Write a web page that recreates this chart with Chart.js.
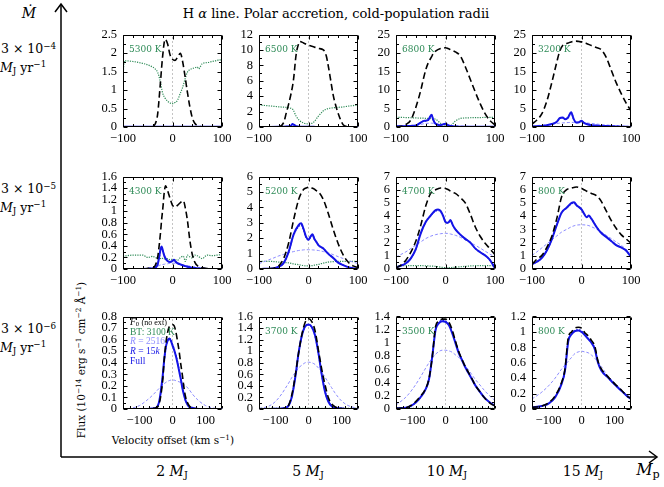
<!DOCTYPE html>
<html>
<head>
<meta charset="utf-8">
<script src="https://cdn.jsdelivr.net/npm/chart.js@4.4.0/dist/chart.umd.min.js"></script>
<style>
  body { margin: 0; background: #fff; }
  #fig { position: relative; width: 664px; height: 487px; overflow: hidden; font-family: "DejaVu Serif", serif; color: #000; }
  #fig canvas { position: absolute; }
  .t { position: absolute; white-space: nowrap; line-height: 1; transform: translate(-50%, -50%); }
  .l { position: absolute; white-space: nowrap; line-height: 1; transform: translateY(-50%); }
  .sp { font-size: 70%; vertical-align: 0.5em; }
  .sb { font-size: 70%; vertical-align: -0.25em; }
  .temp { position: absolute; font-size: 9px; color: #2e8b57; transform: translateY(-50%); white-space: nowrap; z-index: 2; }
  .leg { position: absolute; font-family: "Liberation Serif", serif; font-size: 9.5px; white-space: nowrap; transform: translateY(-50%); z-index: 2; }
  svg { position: absolute; left: 0; top: 0; }
</style>
</head>
<body>
<div id="fig">
  <svg width="664" height="487">
    <polyline points="61,457 61,4" fill="none" stroke="#000" stroke-width="1.5"/>
    <polyline points="55,12 61,4 67,12" fill="none" stroke="#000" stroke-width="1.5"/>
    <polyline points="61,457 657,457" fill="none" stroke="#000" stroke-width="1.5"/>
    <polyline points="649,451 657,457 649,463" fill="none" stroke="#000" stroke-width="1.5"/>
  </svg>
  <div class="t" style="left:336px;top:13px;font-size:13px;">H <i>α</i> line. Polar accretion, cold-population radii</div>
  <div class="t" style="left:29px;top:13px;font-size:14px;"><i>Ṁ</i></div>

  <div class="l" style="left:1px;top:49px;font-size:12.5px;">3 × 10<span class="sp">−4</span></div>
  <div class="l" style="left:0px;top:68px;font-size:12.5px;"><i>M</i><span class="sb">J</span> yr<span class="sp">−1</span></div>
  <div class="l" style="left:1px;top:189px;font-size:12.5px;">3 × 10<span class="sp">−5</span></div>
  <div class="l" style="left:0px;top:208px;font-size:12.5px;"><i>M</i><span class="sb">J</span> yr<span class="sp">−1</span></div>
  <div class="l" style="left:1px;top:329px;font-size:12.5px;">3 × 10<span class="sp">−6</span></div>
  <div class="l" style="left:0px;top:348px;font-size:12.5px;"><i>M</i><span class="sb">J</span> yr<span class="sp">−1</span></div>

  <div class="t" style="left:172px;top:472px;font-size:14px;">2 <i>M</i><span class="sb">J</span></div>
  <div class="t" style="left:308px;top:472px;font-size:14px;">5 <i>M</i><span class="sb">J</span></div>
  <div class="t" style="left:447px;top:472px;font-size:14px;">10 <i>M</i><span class="sb">J</span></div>
  <div class="t" style="left:583px;top:472px;font-size:14px;">15 <i>M</i><span class="sb">J</span></div>
  <div class="t" style="left:648px;top:471px;font-size:16px;"><i>M</i><span class="sb">p</span></div>

  <div class="t" style="left:81px;top:360px;font-size:10.5px;transform:translate(-50%,-50%) rotate(-90deg);">Flux (10<span class="sp">−14</span> erg s<span class="sp">−1</span> cm<span class="sp">−2</span> Å<span class="sp">−1</span>)</div>
  <div class="t" style="left:173px;top:440px;font-size:10.5px;">Velocity offset (km s<span class="sp">−1</span>)</div>

  <div class="leg" style="left:130px;top:322px;color:#000;"><i>F</i><span class="sb">0</span> <span style="font-size:85%">(no ext)</span></div>
  <div class="leg" style="left:130px;top:332px;color:#2e8b57;">BT: 3100 K</div>
  <div class="leg" style="left:130px;top:341px;color:#8c8cff;"><i>R</i> = 2516</div>
  <div class="leg" style="left:130px;top:351px;color:#1414e6;"><i>R</i> = 15<i>k</i></div>
  <div class="leg" style="left:130px;top:361px;color:#1414e6;">Full</div>
</div>
<script>
// Row 1: Mdot = 3e-4 MJ/yr ; columns 2, 5, 10, 15 MJ
const m4_2_vel   = [-100,-97,-80,-60,-40,-35,-30,-25,-20,-15,-10,-5,0,5,10,16,20,25,30,35,40,45,50,53,55,60,70,80,90,95,100];
const m4_2_f0    = [0,0,0,0,0.02,0.08,0.35,1.1,1.9,2.37,2.25,1.95,1.83,1.8,1.88,1.99,1.8,1.4,0.95,0.55,0.25,0.1,0.04,0.02,0.01,0,0,0,0,0,0];
const m4_2_bt    = [1.42,1.79,1.77,1.72,1.62,1.57,1.48,1.25,0.92,0.78,0.7,0.65,0.63,0.66,0.72,0.92,1.05,1.28,1.48,1.55,1.58,1.6,1.62,1.57,1.6,1.71,1.74,1.77,1.8,1.82,1.75];
const m4_2_r2516 = [0.01,0.01,0.01,0.01,0.01,0.01,0.01,0.01,0.01,0.01,0.01,0.01,0.01,0.01,0.01,0.01,0.01,0.01,0.01,0.01,0.01,0.01,0.01,0.01,0.01,0.01,0.01,0.01,0.01,0.01,0.01];
const m4_2_r15k  = [0.01,0.01,0.01,0.01,0.01,0.01,0.01,0.01,0.01,0.01,0.01,0.01,0.01,0.01,0.01,0.01,0.01,0.01,0.01,0.01,0.01,0.01,0.01,0.01,0.01,0.01,0.01,0.01,0.01,0.01,0.01];
const m4_2_full  = [0.01,0.01,0.01,0.01,0.01,0.01,0.01,0.01,0.01,0.01,0.01,0.01,0.01,0.01,0.01,0.01,0.01,0.01,0.01,0.01,0.01,0.01,0.01,0.01,0.01,0.01,0.01,0.01,0.01,0.01,0.01];

const m4_5_vel   = [-100,-80,-60,-50,-45,-40,-35,-32,-30,-25,-20,-18,-10,0,10,20,30,36,40,45,50,55,60,70,80,90,100];
const m4_5_f0    = [0,0,0.05,0.6,1.8,3.0,4.4,5.4,6.3,9.4,10.8,11.1,10.9,10.6,10.4,10.2,10.0,9.2,7.9,6.0,4.1,2.8,1.75,0.3,0.05,0,0];
const m4_5_bt    = [2.85,2.75,2.62,2.57,2.55,2.5,2.42,2.3,2.1,1.4,0.95,0.82,0.52,0.4,0.6,1.4,2.1,2.3,2.4,2.45,2.5,2.52,2.55,2.6,2.7,2.78,2.85];
const m4_5_r2516 = [0.01,0.01,0.02,0.03,0.04,0.05,0.06,0.07,0.07,0.06,0.05,0.05,0.04,0.03,0.02,0.02,0.01,0.01,0.01,0.01,0.01,0.01,0.01,0.01,0.01,0.01,0.01];
const m4_5_r15k  = [0.01,0.01,0.02,0.03,0.05,0.08,0.19,0.38,0.28,0.11,0.05,0.04,0.02,0.02,0.02,0.01,0.01,0.01,0.01,0.01,0.01,0.01,0.01,0.01,0.01,0.01,0.01];
const m4_5_full  = [0.01,0.01,0.02,0.03,0.05,0.08,0.2,0.4,0.3,0.12,0.05,0.04,0.02,0.02,0.02,0.01,0.01,0.01,0.01,0.01,0.01,0.01,0.01,0.01,0.01,0.01,0.01];

const m4_10_vel   = [-100,-90,-80,-70,-60,-50,-45,-40,-35,-28,-25,-20,-10,0,5,10,20,30,40,50,60,70,80,90,100];
const m4_10_f0    = [0.05,0.2,0.7,1.9,5.3,9.9,12.8,15.4,17.3,19.0,19.8,20.5,21.2,21.4,21.2,20.9,20.3,19.2,16.3,12.9,9.5,6.3,3.6,1.7,0.6];
const m4_10_bt    = [2.6,2.6,2.55,2.5,2.45,2.4,2.4,2.35,2.3,2.25,2.2,2.1,1.0,0.2,0.15,0.3,1.6,2.3,2.45,2.5,2.55,2.55,2.6,2.6,2.6];
const m4_10_r2516 = [0.15,0.18,0.22,0.3,0.45,0.7,0.85,0.95,1.0,1.05,1.0,0.95,0.75,0.6,0.5,0.45,0.3,0.25,0.2,0.15,0.12,0.1,0.08,0.06,0.05];
const m4_10_r15k  = [0.2,0.2,0.25,0.3,0.4,1.2,1.55,1.65,1.85,3.2,2.0,0.9,0.5,0.85,0.5,0.25,0.15,0.1,0.1,0.1,0.08,0.08,0.06,0.05,0.05];
const m4_10_full  = [0.2,0.2,0.25,0.3,0.4,1.2,1.6,1.7,1.9,3.3,2.0,0.9,0.5,0.9,0.5,0.25,0.15,0.1,0.1,0.1,0.08,0.08,0.06,0.05,0.05];

const m4_15_vel   = [-100,-90,-80,-70,-60,-50,-44,-38,-33,-27,-21,-16,-11,-5,0,5,10,20,30,40,50,60,70,80,90,100];
const m4_15_f0    = [0.8,1.9,3.6,7.0,12.0,17.5,20.5,22.0,22.4,22.7,23.0,23.1,23.2,23.1,23.0,22.8,22.6,22.0,21.5,20.9,18.8,15.4,12.0,9.1,6.5,4.4];
const m4_15_bt    = [0.1,0.1,0.1,0.1,0.1,0.1,0.1,0.1,0.1,0.1,0.1,0.1,0.1,0.1,0.1,0.1,0.1,0.1,0.1,0.1,0.1,0.1,0.1,0.1,0.1,0.1];
const m4_15_r2516 = [0.3,0.4,0.5,0.65,0.8,0.95,1.05,1.1,1.15,1.2,1.25,1.25,1.25,1.22,1.2,1.15,1.1,0.95,0.8,0.65,0.55,0.45,0.35,0.28,0.22,0.18];
const m4_15_r15k  = [0.1,0.2,0.3,0.5,0.8,1.35,2.3,2.5,2.05,2.5,3.9,2.2,1.2,1.3,1.65,1.1,0.8,0.5,0.4,0.3,0.25,0.2,0.15,0.1,0.05,0.02];
const m4_15_full  = [0.1,0.2,0.3,0.5,0.8,1.4,2.4,2.6,2.1,2.6,4.0,2.2,1.2,1.3,1.7,1.1,0.8,0.5,0.4,0.3,0.25,0.2,0.15,0.1,0.05,0.02];

// Row 2: Mdot = 3e-5 MJ/yr
const m5_2_vel   = [-100,-80,-60,-50,-40,-35,-30,-27,-24,-22,-19,-17,-14,-10,-5,0,3,6,10,16,22,26,30,35,40,45,50,60,70,80,90,100];
const m5_2_f0    = [0,0,0,0.01,0.02,0.06,0.2,0.4,0.65,0.85,1.1,1.3,1.44,1.36,1.22,1.1,1.08,1.07,1.1,1.15,1.18,1.05,0.85,0.5,0.25,0.12,0.06,0.02,0.01,0,0,0];
const m5_2_bt    = [0.22,0.24,0.24,0.2,0.22,0.2,0.19,0.2,0.18,0.19,0.18,0.18,0.17,0.18,0.16,0.17,0.15,0.16,0.15,0.2,0.22,0.13,0.24,0.21,0.19,0.24,0.23,0.18,0.24,0.23,0.24,0.25];
const m5_2_r2516 = [0,0.005,0.01,0.02,0.03,0.04,0.05,0.06,0.07,0.07,0.08,0.08,0.09,0.09,0.1,0.1,0.1,0.1,0.09,0.08,0.07,0.06,0.06,0.05,0.04,0.03,0.03,0.02,0.01,0.005,0,0];
const m5_2_r15k  = [0,0,0,0,0.01,0.02,0.08,0.19,0.34,0.37,0.29,0.23,0.18,0.14,0.12,0.14,0.15,0.13,0.1,0.08,0.06,0.05,0.04,0.03,0.02,0.02,0.01,0.01,0,0,0,0];
const m5_2_full  = [0,0,0,0,0.01,0.02,0.08,0.2,0.35,0.39,0.3,0.24,0.18,0.14,0.12,0.14,0.16,0.13,0.1,0.08,0.06,0.05,0.04,0.03,0.02,0.02,0.01,0.01,0,0,0,0];

const m5_5_vel   = [-100,-90,-80,-70,-60,-50,-40,-30,-20,-15,-10,-5,0,4,8,12,15,20,30,40,50,60,70,80,90,100];
const m5_5_f0    = [0,0,0.02,0.05,0.2,0.7,1.7,3.2,4.5,4.9,5.16,5.25,5.3,5.28,5.24,5.18,5.1,5.0,4.5,3.6,2.56,1.64,0.92,0.45,0.2,0.1];
const m5_5_bt    = [0.5,0.5,0.5,0.48,0.45,0.42,0.4,0.33,0.28,0.25,0.22,0.2,0.2,0.21,0.22,0.25,0.27,0.3,0.38,0.45,0.48,0.5,0.5,0.5,0.5,0.5];
const m5_5_r2516 = [0.35,0.47,0.6,0.72,0.85,0.95,1.05,1.13,1.2,1.22,1.24,1.25,1.25,1.25,1.24,1.23,1.22,1.2,1.13,1.05,0.93,0.8,0.68,0.55,0.45,0.35];
const m5_5_r15k  = [0,0.01,0.02,0.05,0.15,0.4,1.12,2.2,2.75,2.85,2.55,2.05,1.9,2.05,2.2,1.93,1.8,1.55,1.33,0.98,0.72,0.41,0.25,0.12,0.05,0.02];
const m5_5_full  = [0,0.01,0.02,0.05,0.15,0.4,1.13,2.25,2.85,2.97,2.6,2.1,1.9,2.1,2.25,1.95,1.8,1.55,1.33,0.98,0.72,0.41,0.25,0.12,0.05,0.02];

const m5_10_vel   = [-100,-90,-80,-70,-60,-50,-40,-30,-20,-15,-10,-5,0,5,10,15,20,30,40,50,60,70,80,90,100];
const m5_10_f0    = [0.07,0.3,0.67,1.27,2.1,3.3,4.76,5.72,6.0,6.08,6.13,6.12,6.09,6.02,5.9,5.8,5.72,5.4,5.0,4.16,3.2,2.48,1.95,1.52,1.08];
const m5_10_bt    = [0.25,0.25,0.25,0.25,0.25,0.25,0.24,0.22,0.2,0.17,0.14,0.12,0.1,0.1,0.11,0.12,0.14,0.17,0.2,0.23,0.25,0.25,0.25,0.25,0.25];
const m5_10_r2516 = [0.9,1.1,1.3,1.55,1.8,2.05,2.3,2.48,2.6,2.64,2.67,2.69,2.7,2.69,2.65,2.6,2.55,2.4,2.2,2.0,1.8,1.58,1.35,1.12,0.9];
const m5_10_r15k  = [0.12,0.25,0.43,0.8,1.5,2.7,3.56,4.04,4.38,4.42,4.35,4.0,3.55,3.48,3.62,3.28,3.0,2.6,2.28,2.0,1.56,1.27,1.03,0.67,0.1];
const m5_10_full  = [0.12,0.25,0.43,0.8,1.5,2.7,3.56,4.04,4.45,4.5,4.4,4.04,3.56,3.5,3.7,3.3,3.0,2.6,2.28,2.0,1.56,1.27,1.03,0.67,0.05];

const m5_15_vel   = [-100,-90,-80,-70,-60,-50,-40,-30,-20,-15,-10,0,5,10,15,20,30,40,50,60,70,80,90,100];
const m5_15_f0    = [0.36,0.75,1.03,1.64,2.48,3.8,5.48,6.0,6.13,6.17,6.2,6.09,6.0,5.9,5.8,5.72,5.56,5.12,4.4,3.68,3.08,2.6,2.28,1.95];
const m5_15_bt    = [0.02,0.02,0.02,0.02,0.02,0.02,0.02,0.02,0.02,0.02,0.02,0.02,0.02,0.02,0.02,0.02,0.02,0.02,0.02,0.02,0.02,0.02,0.02,0.02];
const m5_15_r2516 = [1.03,1.3,1.6,1.9,2.2,2.5,2.8,3.0,3.2,3.27,3.32,3.35,3.34,3.32,3.28,3.2,3.02,2.8,2.55,2.3,2.05,1.8,1.5,1.2];
const m5_15_r15k  = [0.36,0.55,0.84,1.4,2.24,3.32,4.28,4.62,4.95,5.0,4.8,4.5,4.2,3.95,4.0,3.8,3.2,2.72,2.43,2.12,1.8,1.64,1.4,0.95];
const m5_15_full  = [0.36,0.55,0.84,1.4,2.24,3.32,4.28,4.64,5.0,5.05,4.83,4.52,4.2,3.92,4.04,3.8,3.2,2.72,2.43,2.12,1.8,1.64,1.4,0.91];

// Row 3: Mdot = 3e-6 MJ/yr
const m6_2_vel   = [-150,-120,-100,-80,-60,-50,-40,-30,-25,-20,-15,-10,-5,0,5,10,15,20,25,30,35,40,50,60,80,100,120,150];
const m6_2_f0    = [0,0,0,0,0.005,0.01,0.05,0.24,0.43,0.57,0.66,0.71,0.72,0.73,0.72,0.67,0.59,0.5,0.39,0.29,0.18,0.1,0.03,0.01,0,0,0,0];
const m6_2_bt    = [0.003,0.003,0.003,0.003,0.003,0.003,0.003,0.003,0.003,0.003,0.003,0.003,0.003,0.003,0.003,0.003,0.003,0.003,0.003,0.003,0.003,0.003,0.003,0.003,0.003,0.003,0.003,0.003];
const m6_2_r2516 = [0,0.01,0.03,0.07,0.12,0.15,0.18,0.21,0.22,0.23,0.24,0.245,0.25,0.25,0.25,0.245,0.24,0.235,0.23,0.22,0.21,0.2,0.17,0.13,0.07,0.03,0.01,0];
const m6_2_r15k  = [0,0,0,0,0.005,0.01,0.06,0.27,0.42,0.53,0.59,0.61,0.6,0.56,0.52,0.47,0.41,0.34,0.27,0.19,0.12,0.07,0.02,0.01,0,0,0,0];
const m6_2_full  = [0,0,0,0,0.005,0.01,0.07,0.28,0.43,0.54,0.59,0.61,0.59,0.55,0.51,0.46,0.4,0.33,0.26,0.18,0.12,0.07,0.02,0.01,0,0,0,0];

const m6_5_vel   = [-150,-120,-100,-80,-70,-60,-50,-40,-30,-20,-10,0,10,20,30,40,50,60,70,80,100,120,150];
const m6_5_f0    = [0,0,0,0.005,0.02,0.07,0.26,0.58,0.97,1.29,1.5,1.56,1.51,1.35,1.02,0.69,0.42,0.2,0.09,0.04,0.01,0,0];
const m6_5_bt    = [0.01,0.01,0.01,0.01,0.01,0.01,0.01,0.01,0.01,0.01,0.01,0.01,0.01,0.01,0.01,0.01,0.01,0.01,0.01,0.01,0.01,0.01,0.01];
const m6_5_r2516 = [0.01,0.05,0.13,0.27,0.36,0.45,0.55,0.63,0.71,0.76,0.8,0.81,0.8,0.77,0.71,0.64,0.55,0.46,0.37,0.28,0.14,0.06,0.01];
const m6_5_r15k  = [0,0,0.005,0.01,0.02,0.06,0.23,0.56,0.97,1.27,1.42,1.45,1.41,1.26,0.96,0.6,0.31,0.14,0.05,0.02,0.01,0,0];
const m6_5_full  = [0,0,0.005,0.01,0.02,0.06,0.22,0.55,0.97,1.27,1.43,1.46,1.42,1.27,0.97,0.6,0.3,0.13,0.05,0.02,0.01,0,0];

const m6_10_vel   = [-150,-120,-100,-80,-60,-50,-40,-30,-20,-10,0,10,20,30,40,50,60,70,80,90,100,120,140,150];
const m6_10_f0    = [0.01,0.02,0.07,0.17,0.31,0.46,0.79,1.25,1.33,1.36,1.36,1.32,1.2,1.03,0.87,0.75,0.64,0.55,0.46,0.36,0.29,0.16,0.07,0.05];
const m6_10_bt    = [0.01,0.01,0.01,0.01,0.01,0.01,0.01,0.01,0.01,0.01,0.01,0.01,0.01,0.01,0.01,0.01,0.01,0.01,0.01,0.01,0.01,0.01,0.01,0.01];
const m6_10_r2516 = [0.06,0.18,0.3,0.45,0.62,0.7,0.77,0.83,0.87,0.89,0.89,0.88,0.86,0.82,0.78,0.72,0.66,0.59,0.52,0.45,0.39,0.27,0.17,0.13];
const m6_10_r15k  = [0.01,0.02,0.06,0.15,0.3,0.45,0.8,1.21,1.31,1.34,1.33,1.28,1.16,1.01,0.86,0.75,0.64,0.55,0.46,0.37,0.29,0.16,0.08,0.05];
const m6_10_full  = [0.01,0.02,0.06,0.15,0.3,0.45,0.8,1.2,1.3,1.33,1.32,1.27,1.15,1.0,0.85,0.74,0.63,0.54,0.45,0.36,0.29,0.16,0.08,0.05];

const m6_15_vel   = [-150,-120,-100,-80,-60,-50,-40,-30,-20,-10,0,10,20,30,40,50,60,80,100,120,140,150];
const m6_15_f0    = [0.02,0.04,0.08,0.17,0.35,0.52,0.93,1.0,1.05,1.06,1.05,0.99,0.95,0.89,0.82,0.62,0.52,0.42,0.33,0.25,0.16,0.14];
const m6_15_bt    = [0.003,0.003,0.003,0.003,0.003,0.003,0.003,0.003,0.003,0.003,0.003,0.003,0.003,0.003,0.003,0.003,0.003,0.003,0.003,0.003,0.003,0.003];
const m6_15_r2516 = [0.13,0.22,0.3,0.4,0.52,0.57,0.62,0.67,0.72,0.74,0.75,0.74,0.73,0.7,0.66,0.61,0.55,0.43,0.34,0.25,0.18,0.15];
const m6_15_r15k  = [0.02,0.04,0.07,0.16,0.34,0.5,0.9,0.98,1.02,1.03,1.01,0.97,0.92,0.86,0.79,0.61,0.51,0.41,0.32,0.24,0.16,0.13];
const m6_15_full  = [0.02,0.04,0.07,0.15,0.33,0.5,0.88,0.97,1.01,1.02,1.0,0.96,0.91,0.86,0.78,0.6,0.5,0.41,0.32,0.24,0.16,0.13];

// photosphere temperatures shown in each panel (bottom-left one is in the legend)
const btTemps = ['5300 K','6500 K','6800 K','3200 K','4300 K','5200 K','4700 K','800 K','','3700 K','3500 K','800 K'];
const yMaxes  = [2.5, 12, 25, 25, 1.6, 6, 7, 7, 0.8, 1.6, 1.4, 1.2];
const ySteps  = [0.5, 2, 5, 5, 0.2, 1, 1, 1, 0.1, 0.2, 0.2, 0.2];
const xLimits = [100, 100, 150];           // per row, symmetric
const xTickVals = [-100, 0, 100];

const panels = [
  [m4_2_vel, m4_2_f0, m4_2_bt, m4_2_r2516, m4_2_r15k, m4_2_full],
  [m4_5_vel, m4_5_f0, m4_5_bt, m4_5_r2516, m4_5_r15k, m4_5_full],
  [m4_10_vel, m4_10_f0, m4_10_bt, m4_10_r2516, m4_10_r15k, m4_10_full],
  [m4_15_vel, m4_15_f0, m4_15_bt, m4_15_r2516, m4_15_r15k, m4_15_full],
  [m5_2_vel, m5_2_f0, m5_2_bt, m5_2_r2516, m5_2_r15k, m5_2_full],
  [m5_5_vel, m5_5_f0, m5_5_bt, m5_5_r2516, m5_5_r15k, m5_5_full],
  [m5_10_vel, m5_10_f0, m5_10_bt, m5_10_r2516, m5_10_r15k, m5_10_full],
  [m5_15_vel, m5_15_f0, m5_15_bt, m5_15_r2516, m5_15_r15k, m5_15_full],
  [m6_2_vel, m6_2_f0, m6_2_bt, m6_2_r2516, m6_2_r15k, m6_2_full],
  [m6_5_vel, m6_5_f0, m6_5_bt, m6_5_r2516, m6_5_r15k, m6_5_full],
  [m6_10_vel, m6_10_f0, m6_10_bt, m6_10_r2516, m6_10_r15k, m6_10_full],
  [m6_15_vel, m6_15_f0, m6_15_bt, m6_15_r2516, m6_15_r15k, m6_15_full]
];

// layout of the plot boxes
const colLeft = [123, 259, 396, 532];
const rowTop = [29, 171, 311];
const plotW = 99, plotH = 98;
const yAxisW = 42, padTop = 8, padRight = 18, xAxisH = 22;

// box frame with inward ticks on all four sides
const frameTicks = {
  id: 'frameTicks',
  afterDraw(chart) {
    const o = chart.options.plugins.frameTicks;
    const { ctx, chartArea: a, scales: { x, y } } = chart;
    const L = Math.round(a.left) + 0.5, R = Math.round(a.right) - 0.5;
    const T = Math.round(a.top) + 0.5, B = Math.round(a.bottom) - 0.5;
    ctx.save();
    ctx.strokeStyle = '#000';
    ctx.lineWidth = 1;
    ctx.beginPath();
    ctx.rect(L, T, R - L, B - T);
    const nx = Math.round((x.max - x.min) / o.xMinor);
    for (let i = 0; i <= nx; i++) {
      const v = x.min + i * o.xMinor;
      const px = Math.round(x.getPixelForValue(v)) + 0.5;
      const len = xTickVals.includes(Math.round(v)) ? 4 : 2.5;
      ctx.moveTo(px, B); ctx.lineTo(px, B - len);
      ctx.moveTo(px, T); ctx.lineTo(px, T + len);
    }
    const ny = Math.round((y.max - y.min) / o.yMinor);
    for (let i = 0; i <= ny; i++) {
      const py = Math.round(y.getPixelForValue(y.min + i * o.yMinor)) + 0.5;
      const len = i % 2 === 0 ? 4 : 2.5;
      ctx.moveTo(L, py); ctx.lineTo(L + len, py);
      ctx.moveTo(R, py); ctx.lineTo(R - len, py);
    }
    ctx.stroke();
    ctx.restore();
  }
};

const fmt = v => String(Math.round(v * 100) / 100).replace('-', '\u2212');
const pts = (xs, ys) => xs.map((v, i) => ({ x: v, y: ys[i] }));
const tickFont = { family: 'Liberation Serif', size: 12.5 };

const fig = document.getElementById('fig');
panels.forEach((p, i) => {
  const row = Math.floor(i / 4), col = i % 4;
  const [vel, f0, bt, r2516, r15k, full] = p;
  const xl = xLimits[row];
  const cv = document.createElement('canvas');
  const w = yAxisW + plotW + padRight, h = padTop + plotH + xAxisH;
  cv.width = w; cv.height = h;
  cv.style.left = (colLeft[col] - yAxisW) + 'px';
  cv.style.top = (rowTop[row] - padTop) + 'px';
  cv.style.width = w + 'px'; cv.style.height = h + 'px';
  fig.appendChild(cv);

  if (btTemps[i]) {
    const d = document.createElement('div');
    d.className = 'temp';
    d.textContent = btTemps[i];
    d.style.left = (colLeft[col] + 6) + 'px';
    d.style.top = (rowTop[row] + 20) + 'px';
    fig.appendChild(d);
  }

  const line = (data, color, width, dash) => ({
    data: pts(vel, data), borderColor: color, borderWidth: width, borderDash: dash,
    pointRadius: 0, fill: false, cubicInterpolationMode: 'monotone'
  });

  new Chart(cv, {
    type: 'line',
    data: {
      datasets: [
        line(f0, '#000', 1.6, [6.5, 3.5]),
        line(full, '#1414e6', 2, []),
        line(r15k, '#2a2aff', 1.4, [1.5, 1.5]),
        line(r2516, '#8c8cff', 1, [3, 2]),
        line(bt, '#2e8b57', 1.2, [1.2, 1.2]),
        { data: [{ x: 0, y: 0 }, { x: 0, y: yMaxes[i] }], borderColor: '#c4c4c4', borderWidth: 1,
          borderDash: [2, 2], pointRadius: 0 }
      ]
    },
    options: {
      responsive: false,
      animation: false,
      events: [],
      layout: { padding: { top: padTop, right: padRight, left: 0, bottom: 0 } },
      plugins: {
        legend: { display: false },
        tooltip: { enabled: false },
        frameTicks: { xMinor: 20, yMinor: ySteps[i] / 2 }
      },
      scales: {
        x: {
          type: 'linear', min: -xl, max: xl,
          grid: { display: false, drawTicks: false },
          border: { display: false },
          afterBuildTicks: s => { s.ticks = xTickVals.map(v => ({ value: v })); },
          afterFit: s => { s.height = xAxisH; },
          ticks: { padding: 4, color: '#000', font: tickFont, maxRotation: 0, autoSkip: false, callback: fmt }
        },
        y: {
          min: 0, max: yMaxes[i],
          grid: { display: false, drawTicks: false },
          border: { display: false },
          afterFit: s => { s.width = yAxisW; },
          ticks: { stepSize: ySteps[i], padding: 6, color: '#000', font: tickFont, autoSkip: false, callback: fmt }
        }
      }
    },
    plugins: [frameTicks]
  });
});
</script>
</body>
</html>
